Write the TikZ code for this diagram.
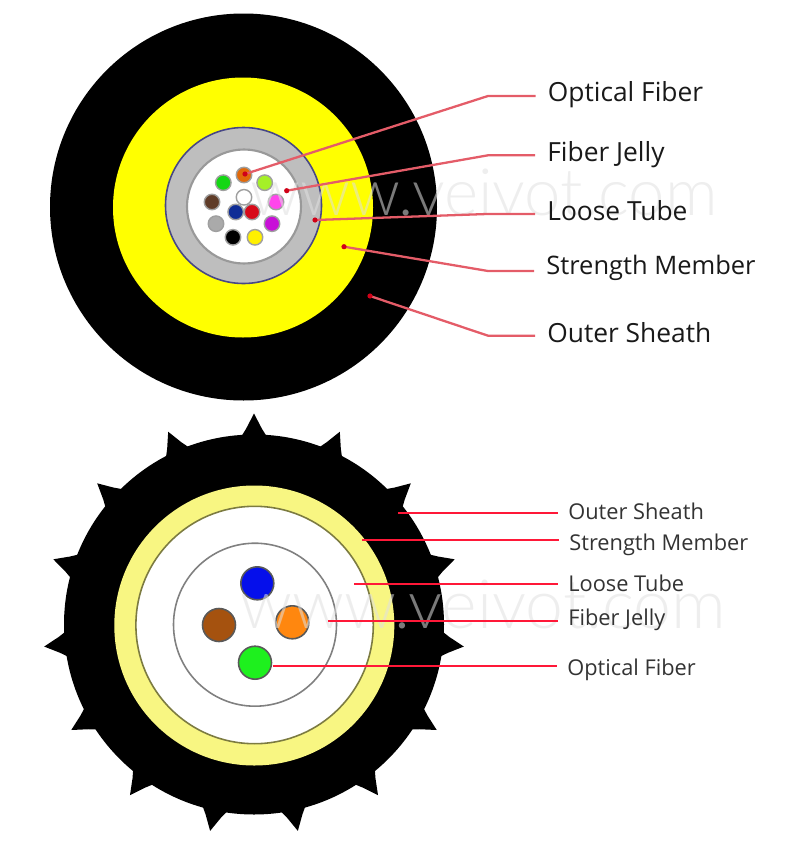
\documentclass[tikz,border=0pt]{standalone}
\usepackage{fontspec}
\setmainfont{Open Sans}
\newfontfamily\markfont[UprightFont=* Light]{Lato}
\definecolor{leadA}{RGB}{228,92,104}
\definecolor{dotA}{RGB}{208,0,24}
\definecolor{leadB}{RGB}{255,24,56}
\definecolor{paleyellow}{RGB}{248,246,130}
\definecolor{fullyellow}{RGB}{255,255,0}
\definecolor{ringgray}{RGB}{190,190,190}
\definecolor{fOrange}{RGB}{225,105,10}
\definecolor{fGreen}{RGB}{20,215,20}
\definecolor{fLime}{RGB}{165,240,40}
\definecolor{fBrown}{RGB}{95,60,40}
\definecolor{fMagenta}{RGB}{255,70,235}
\definecolor{fBlue}{RGB}{15,45,150}
\definecolor{fRed}{RGB}{215,10,25}
\definecolor{fGray}{RGB}{170,170,170}
\definecolor{fPurple}{RGB}{200,15,215}
\definecolor{fYellow}{RGB}{255,240,0}
\definecolor{gBlue}{RGB}{5,15,235}
\definecolor{gBrown}{RGB}{165,82,15}
\definecolor{gOrange}{RGB}{255,135,15}
\definecolor{gGreen}{RGB}{30,240,30}
\tikzset{
  fibre/.style={circle, draw=gray!75, line width=.8pt, minimum size=15.5*.02cm, inner sep=0pt},
  fibreB/.style={circle, draw=black!65, line width=.9pt, minimum size=33*.02cm, inner sep=0pt},
  labA/.style={anchor=base west, inner ysep=0pt, inner xsep=.24cm, font=\fontsize{15}{18}\selectfont, text=black!90},
  labB/.style={anchor=base west, inner ysep=0pt, inner xsep=.2cm, font=\fontsize{12.4}{15}\selectfont, text=black!80},
  leadlineA/.style={draw=leadA, line width=1.3pt},
  leadlineB/.style={draw=leadB, line width=.95pt},
  wmark/.style={text=white!88!black, opacity=.55, inner sep=0pt, anchor=base west},
}
\begin{document}
\begin{tikzpicture}[x=.02cm,y=-.02cm]
\useasboundingbox (0,0) rectangle (807,842);
% upper cable
\fill[black] (243.5,207) circle (193.5);
\fill[fullyellow] (243,207.5) circle (130);
\draw[fill=ringgray, draw=gray!70!blue!80!black, line width=.9pt] (243.5,205.5) circle (78);
\draw[fill=white, draw=gray!80, line width=1.2pt] (244,206.5) circle (57);
\node[fibre, fill=fOrange] (f1) at (244,175) {};
\node[fibre, fill=fGreen] (f2) at (223.3,182.7) {};
\node[fibre, fill=fLime] (f3) at (264.7,182.7) {};
\node[fibre, fill=white] (f4) at (244,197.3) {};
\node[fibre, fill=fBrown] (f5) at (212,202) {};
\node[fibre, fill=fMagenta] (f6) at (276,202) {};
\node[fibre, fill=fBlue] (f7) at (235.7,212) {};
\node[fibre, fill=fRed] (f8) at (252,212) {};
\node[fibre, fill=fGray] (f9) at (216,223.7) {};
\node[fibre, fill=fPurple] (f10) at (272,223.7) {};
\node[fibre, fill=black] (f11) at (233,237.3) {};
\node[fibre, fill=fYellow] (f12) at (255,237.3) {};
% lower cable
\fill[black] (254,624.5) circle (190);
\begin{scope}[shift={(254,624.5)}]
\foreach \a in {-90,-66,...,246}
  \fill[black] (\a-4.2:187) -- (\a-2.3:196) -- (\a:211) -- (\a+2.3:196) -- (\a+4.2:187) -- cycle;
\end{scope}
\fill[paleyellow] (254.3,625.5) circle (140);
\draw[fill=white, draw=black!50!paleyellow, line width=.9pt] (254.6,625) circle (118.7);
\draw[draw=gray, line width=.9pt] (255,624.7) circle (81.5);
\node[fibreB, fill=gBlue] (g1) at (257.3,583.3) {};
\node[fibreB, fill=gBrown] (g2) at (219,625) {};
\node[fibreB, fill=gOrange] (g3) at (292.3,622.3) {};
\node[fibreB, fill=gGreen] (g4) at (255,662.7) {};
% watermarks
\node[wmark, font=\markfont\fontsize{37.2}{40}\selectfont] (mark1) at (250,215.7) {www.veivot.com};
\node[wmark, font=\markfont\fontsize{38.7}{44}\selectfont] (mark2) at (240,628) {www.veivot.com};
% upper labels
\node[labA] (a1) at (535.5,101) {Optical Fiber};
\node[labA] (a2) at (535,161.7) {Fiber Jelly};
\node[labA] (a3) at (535,220) {Loose Tube};
\node[labA, font=\fontsize{14.5}{18}\selectfont] (a4) at (534,274) {Strength Member};
\node[labA] (a5) at (535,342) {Outer Sheath};
\coordinate (p1) at (245,174);
\coordinate (p2) at (286.7,190.7);
\coordinate (p3) at (315,220);
\coordinate (p4) at (344,246.7);
\coordinate (p5) at (370,296);
\coordinate (b1) at (488,96);
\coordinate (b2) at (488,155.3);
\coordinate (b3) at (487,214);
\coordinate (b4) at (488,271);
\coordinate (b5) at (488,335.7);
\draw[leadlineA] (p1) -- (b1) -- (b1 -| a1.west);
\draw[leadlineA] (p2) -- (b2) -- (b2 -| a2.west);
\draw[leadlineA] (p3) -- (b3) -- (b3 -| a3.west);
\draw[leadlineA] (p4) -- (b4) -- (b4 -| a4.west);
\draw[leadlineA] (p5) -- (b5) -- (b5 -| a5.west);
\foreach \n in {p1,p2,p3,p4,p5}
  \fill[dotA] (\n) circle (2.6);
% lower labels
\node[labB] (c1) at (558,519) {Outer Sheath};
\node[labB] (c2) at (559,550) {Strength Member};
\node[labB] (c3) at (558,591) {Loose Tube};
\node[labB] (c4) at (558,625) {Fiber Jelly};
\node[labB] (c5) at (557,675.7) {Optical Fiber};
\coordinate (q1) at (398,512.7);
\coordinate (q2) at (362,540);
\coordinate (q3) at (354,584);
\coordinate (q4) at (328,621);
\coordinate (q5) at (273,666);
\draw[leadlineB] (q1) -- (q1 -| c1.west);
\draw[leadlineB] (q2) -- (q2 -| c2.west);
\draw[leadlineB] (q3) -- (q3 -| c3.west);
\draw[leadlineB] (q4) -- (q4 -| c4.west);
\draw[leadlineB] (q5) -- (q5 -| c5.west);
\end{tikzpicture}
\end{document}
